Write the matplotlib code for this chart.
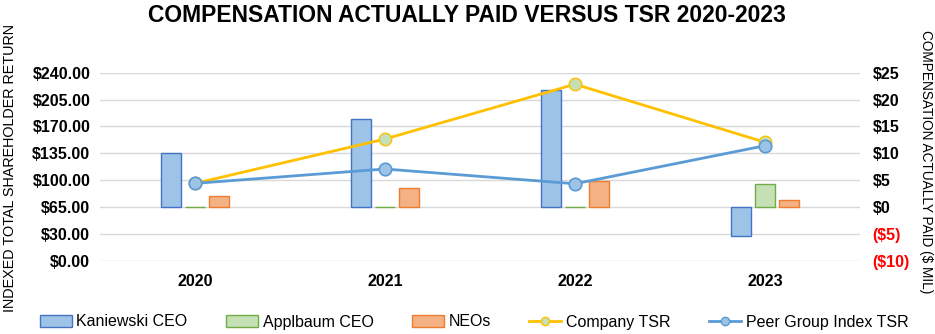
import numpy as np
import matplotlib.pyplot as plt
from matplotlib.lines import Line2D
from matplotlib.patches import Patch

plt.rcParams['font.family'] = ['Liberation Sans', 'DejaVu Sans']

years = ['2020', '2021', '2022', '2023']

# compensation actually paid, $ millions (right axis)
kaniewski_ceo = [10.0, 16.4, 21.8, -5.3]
applbaum_ceo = [0.05, 0.05, 0.05, 4.3]
neos = [2.0, 3.5, 4.8, 1.4]

# indexed TSR (left axis)
company_tsr = [96.0, 153.7, 225.0, 149.5]
peer_tsr = [96.0, 114.7, 95.5, 145.0]

left_ticks = [-5, 30, 65, 100, 135, 170, 205, 240]
left_labels = ['$0.00', '$30.00', '$65.00', '$100.00', '$135.00',
               '$170.00', '$205.00', '$240.00']
right_ticks = [-10, -5, 0, 5, 10, 15, 20, 25]
right_labels = ['($10)', '($5)', '$0', '$5', '$10', '$15', '$20', '$25']

fig = plt.figure(figsize=(9.35, 3.34), dpi=100)
ax = fig.add_axes([100 / 935, 73 / 334, 760 / 935, 188.3 / 334])
ax2 = ax.twinx()

x = np.arange(len(years))
w = 0.105
off = 0.124
ax.bar(x - off, kaniewski_ceo, w, color='#9DC3E6', edgecolor='#4472C4', linewidth=1)
ax.bar(x, applbaum_ceo, w, color='#C5E0B4', edgecolor='#70AD47', linewidth=1)
ax.bar(x + off, neos, w, color='#F4B183', edgecolor='#ED7D31', linewidth=1)

ax.set_xlim(-0.5, 3.5)
ax.set_ylim(-10, 25)
ax.set_yticks(right_ticks)
ax.set_yticklabels(right_labels)
ax.yaxis.tick_right()
for lbl, v in zip(ax.get_yticklabels(), right_ticks):
    lbl.set_color('#FF0000' if v < 0 else 'black')
    lbl.set_fontweight('bold')
    lbl.set_fontsize(11.5)
ax.grid(axis='y', color='#D9D9D9', linewidth=1)
ax.set_axisbelow(True)

ax2.plot(x, company_tsr, color='#FFC000', linewidth=2, marker='o', markersize=9,
         markerfacecolor='#C5E0B4', markeredgecolor='#FFC000', markeredgewidth=1)
ax2.plot(x, peer_tsr, color='#5B9BD5', linewidth=2, marker='o', markersize=9,
         markerfacecolor='#9DC3E6', markeredgecolor='#5B9BD5', markeredgewidth=1.2)
ax2.set_ylim(-5, 240)
ax2.set_yticks(left_ticks)
ax2.set_yticklabels(left_labels, fontweight='bold', fontsize=11.5)
ax2.yaxis.tick_left()

ax.set_xticks(x)
ax.set_xticklabels(years, fontweight='bold', fontsize=11.5)

for a in (ax, ax2):
    for s in a.spines.values():
        s.set_visible(False)
    a.tick_params(length=0)
ax.tick_params(axis='y', pad=9)
ax2.tick_params(axis='y', pad=7)
ax.tick_params(axis='x', pad=9)

fig.text(467 / 935, 1 - 15 / 334, 'COMPENSATION ACTUALLY PAID VERSUS TSR 2020-2023',
         ha='center', va='center', fontsize=16.5, fontweight='bold')
fig.text(10 / 935, 1 - 168 / 334, 'INDEXED TOTAL SHAREHOLDER RETURN', rotation=90,
         ha='center', va='center', fontsize=10.4)
fig.text(926 / 935, 1 - 162 / 334, 'COMPENSATION ACTUALLY PAID ($ MIL)', rotation=270,
         ha='center', va='center', fontsize=9.8)

handles = [
    Patch(facecolor='#9DC3E6', edgecolor='#4472C4', label='Kaniewski CEO'),
    Patch(facecolor='#C5E0B4', edgecolor='#70AD47', label='Applbaum CEO'),
    Patch(facecolor='#F4B183', edgecolor='#ED7D31', label='NEOs'),
    Line2D([], [], color='#FFC000', linewidth=2, marker='o', markersize=6,
           markerfacecolor='#C5E0B4', markeredgecolor='#FFC000', label='Company TSR'),
    Line2D([], [], color='#5B9BD5', linewidth=2, marker='o', markersize=6,
           markerfacecolor='#9DC3E6', markeredgecolor='#5B9BD5', label='Peer Group Index TSR'),
]
fig.legend(handles=handles, loc='center', bbox_to_anchor=(474 / 935, 1 - 322 / 334),
           ncol=5, frameon=False, fontsize=11.5, handlelength=2.0, handleheight=0.7,
           columnspacing=2.4, handletextpad=0.3)

fig.savefig('out.png', dpi=100)
